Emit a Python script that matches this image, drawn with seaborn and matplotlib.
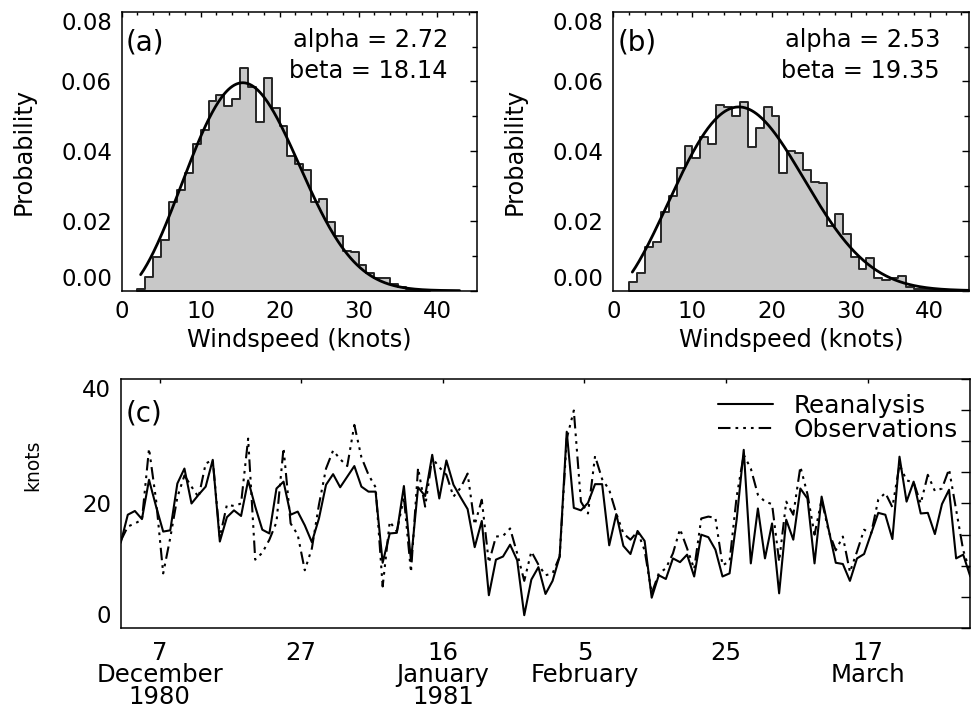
import datetime as dt

import matplotlib
matplotlib.use("Agg")
import matplotlib.pyplot as plt
import matplotlib.dates as mdates
from matplotlib.ticker import MultipleLocator, FixedLocator
import numpy as np
import pandas as pd
import seaborn as sns

# ---------------------------------------------------------------- data
# (a) Reanalysis windspeed histogram, 1-knot bins starting at 2 knots
bin_start_a = 2
prob_a = [0.0005, 0.0040, 0.0098, 0.0145, 0.0255, 0.0290, 0.0337, 0.0420,
          0.0460, 0.0544, 0.0560, 0.0530, 0.0550, 0.0638, 0.0585, 0.0483,
          0.0610, 0.0523, 0.0472, 0.0387, 0.0362, 0.0346, 0.0255, 0.0263,
          0.0198, 0.0157, 0.0115, 0.0112, 0.0074, 0.0050, 0.0035, 0.0035,
          0.0020, 0.0010, 0.0006, 0.0003, 0.0002]
alpha_a, beta_a = 2.72, 18.14

# (b) Observed windspeed histogram
bin_start_b = 2
prob_b = [0.0026, 0.0052, 0.0126, 0.0139, 0.0227, 0.0271, 0.0351, 0.0416,
          0.0380, 0.0440, 0.0420, 0.0532, 0.0528, 0.0500, 0.0542, 0.0413,
          0.0467, 0.0526, 0.0500, 0.0337, 0.0400, 0.0394, 0.0346, 0.0313,
          0.0308, 0.0185, 0.0219, 0.0164, 0.0098, 0.0061, 0.0093, 0.0035,
          0.0032, 0.0035, 0.0042, 0.0011, 0.0006, 0.0006, 0.0003, 0.0002,
          0.0002, 0.0002, 0.0002]
alpha_b, beta_b = 2.53, 19.35

# (c) daily windspeed, 1 Dec 1980 - 31 Mar 1981 (knots)
start_day = dt.datetime(1980, 12, 1, 12)
reanalysis = [13.7, 18.2, 18.8, 17.5, 23.8, 19.5, 15.5, 15.7, 23.2, 25.6,
              20.0, 21.4, 22.7, 27.0, 13.9, 17.8, 18.9, 18.0, 23.7, 19.5,
              15.8, 15.2, 22.4, 23.5, 18.2, 18.7, 16.5, 13.8, 17.6, 23.0,
              24.7, 22.6, 24.3, 26.0, 22.7, 21.9, 21.9, 10.5, 15.2, 15.3,
              22.8, 10.8, 22.6, 21.2, 27.8, 20.8, 26.9, 23.0, 21.0, 19.1,
              13.0, 17.2, 5.3, 11.0, 11.5, 13.4, 10.9, 2.1, 7.8, 9.8,
              5.5, 7.6, 11.5, 31.5, 19.3, 18.9, 20.1, 23.1, 23.1, 13.3,
              18.3, 13.2, 11.9, 15.6, 14.0, 4.9, 8.5, 7.9, 11.2, 10.6,
              11.8, 8.3, 15.0, 14.6, 12.6, 8.3, 8.8, 17.4, 28.6, 10.4,
              19.2, 11.2, 16.8, 5.6, 17.4, 14.2, 22.4, 20.8, 10.4, 21.1,
              15.8, 10.5, 10.3, 7.6, 11.2, 11.9, 15.2, 18.5, 18.2, 14.3,
              27.5, 20.3, 23.5, 18.4, 18.5, 15.1, 19.9, 22.2, 11.2, 11.8,
              8.3]
observations = [14.0, 16.3, 16.8, 17.4, 28.8, 20.5, 8.8, 14.5, 21.0, 24.5,
                22.7, 21.0, 26.4, 27.0, 14.6, 19.8, 19.6, 20.0, 30.4, 11.0,
                12.1, 14.2, 17.0, 28.9, 16.8, 15.0, 9.3, 12.8, 19.8, 25.6,
                28.5, 27.1, 26.0, 32.6, 27.4, 24.6, 22.6, 6.7, 17.1, 15.5,
                21.0, 9.0, 25.7, 19.5, 27.3, 25.8, 24.6, 21.1, 22.5, 24.8,
                16.6, 20.6, 10.5, 14.7, 14.8, 16.0, 12.0, 7.6, 12.3, 10.2,
                8.5, 8.8, 11.5, 30.4, 34.9, 20.3, 18.4, 27.6, 23.9, 22.2,
                18.4, 15.2, 14.2, 15.5, 12.5, 5.6, 8.8, 9.6, 12.0, 15.9,
                12.8, 9.5, 17.6, 17.9, 17.7, 10.1, 10.7, 21.1, 27.8, 25.6,
                21.4, 20.3, 19.9, 10.7, 20.3, 18.2, 25.9, 21.5, 15.0, 20.6,
                15.5, 12.5, 14.7, 9.0, 12.3, 15.8, 15.2, 20.6, 21.7, 19.4,
                26.2, 23.7, 23.4, 20.0, 24.6, 22.0, 22.4, 25.5, 19.0, 12.5,
                9.0]
tick_dates = [dt.datetime(1980, 12, 7), dt.datetime(1980, 12, 27),
              dt.datetime(1981, 1, 16), dt.datetime(1981, 2, 5),
              dt.datetime(1981, 2, 25), dt.datetime(1981, 3, 17)]
tick_labels = ["7\nDecember\n1980", "27", "16\nJanuary\n1981",
               "5\nFebruary", "25", "17\nMarch"]

# ---------------------------------------------------------------- style
sns.set_theme(style="white")
plt.rcParams["font.family"] = ["DejaVu Sans"]
plt.rcParams["axes.linewidth"] = 1.1
plt.rcParams["axes.edgecolor"] = "black"
plt.rcParams["xtick.color"] = "black"
plt.rcParams["ytick.color"] = "black"
plt.rcParams["text.color"] = "black"
plt.rcParams["axes.labelcolor"] = "black"

TICK_FS = 16.5
LABEL_FS = 17.3
PANEL_FS = 20

fig = plt.figure(figsize=(9.79, 7.08), dpi=100)


def weibull_pdf(x, k, lam):
    return (k / lam) * (x / lam) ** (k - 1) * np.exp(-(x / lam) ** k)


def pull_in_end_labels(ax):
    """Keep the lowest and highest y tick labels inside the frame."""
    fig.canvas.draw()
    labels = [t for t in ax.get_yticklabels() if t.get_text()]
    labels[0].set_verticalalignment("bottom")
    labels[-1].set_verticalalignment("top")


def histogram_panel(rect, start, probs, k, lam, letter, x_end):
    ax = fig.add_axes(rect)
    edges = [float(e) for e in range(start, start + len(probs) + 1)]
    hist_df = pd.DataFrame({"speed": [e + 0.5 for e in edges[:-1]],
                            "prob": probs})
    sns.histplot(data=hist_df, x="speed", weights="prob", bins=edges,
                 element="step", fill=True, stat="count",
                 facecolor="#c8c8c8", edgecolor="#262626", linewidth=1.4,
                 alpha=1.0, ax=ax)
    xs = np.linspace(2.4, x_end, 300)
    sns.lineplot(x=xs, y=weibull_pdf(xs, k, lam), color="black",
                 linewidth=2.0, ax=ax)
    ax.set_xlim(0, 45)
    ax.set_ylim(0, 0.08)
    ax.xaxis.set_major_locator(MultipleLocator(10))
    ax.xaxis.set_minor_locator(MultipleLocator(2))
    ax.yaxis.set_major_locator(FixedLocator([0, 0.02, 0.04, 0.06, 0.08]))
    ax.yaxis.set_minor_locator(MultipleLocator(0.01))
    ax.yaxis.set_major_formatter(plt.FormatStrFormatter("%.2f"))
    ax.tick_params(which="both", direction="in", top=True, right=True,
                   labelsize=TICK_FS, width=1.0)
    ax.tick_params(axis="y", which="major", length=5, pad=7)
    ax.tick_params(axis="y", which="minor", length=3.5)
    ax.tick_params(axis="x", which="major", length=3.6, pad=7)
    ax.tick_params(axis="x", which="minor", length=2.2)
    ax.set_xlabel("Windspeed (knots)", fontsize=LABEL_FS)
    ax.set_ylabel("Probability", fontsize=LABEL_FS)
    ax.xaxis.set_label_coords(0.5, -0.135)
    ax.yaxis.set_label_coords(-0.243, 0.5)
    ax.text(0.012, 0.862, f"({letter})", transform=ax.transAxes,
            fontsize=PANEL_FS, ha="left", va="baseline")
    ax.text(0.918, 0.875, f"alpha = {k:.2f}", transform=ax.transAxes,
            fontsize=LABEL_FS, ha="right", va="baseline")
    ax.text(0.918, 0.763, f"beta = {lam:.2f}", transform=ax.transAxes,
            fontsize=LABEL_FS, ha="right", va="baseline")
    return ax


ax_a = histogram_panel([0.1243, 0.5894, 0.3629, 0.3941], bin_start_a, prob_a,
                       alpha_a, beta_a, "a", 42.8)
ax_b = histogram_panel([0.6265, 0.5894, 0.3636, 0.3941], bin_start_b, prob_b,
                       alpha_b, beta_b, "b", 45.0)

# ---------------------------------------------------------------- (c)
axc = fig.add_axes([0.1233, 0.1126, 0.8678, 0.3525])
days = [start_day + dt.timedelta(days=i) for i in range(len(reanalysis))]
xnum = mdates.date2num(days)

sns.lineplot(x=xnum, y=reanalysis, color="black", linewidth=1.5,
             label="Reanalysis", ax=axc)
sns.lineplot(x=xnum, y=observations, color="black", linewidth=1.5,
             linestyle=(0, (6.0, 2.4, 1.3, 2.4, 1.3, 2.4, 1.3, 2.4)),
             label="Observations", ax=axc)

axc.set_xlim(xnum[0], xnum[-1])
axc.set_ylim(0, 40)
axc.xaxis.set_major_locator(FixedLocator(mdates.date2num(tick_dates)))
axc.set_xticklabels(tick_labels)
axc.yaxis.set_major_locator(FixedLocator([0, 20, 40]))
axc.yaxis.set_minor_locator(MultipleLocator(5))
axc.tick_params(which="both", direction="in", top=True, right=True,
                labelsize=TICK_FS, width=1.0)
axc.tick_params(axis="y", which="both", length=6.5, pad=7)
axc.tick_params(axis="x", which="major", length=3, pad=9)
for lbl in axc.get_xticklabels():
    lbl.set_linespacing(0.9)
    lbl.set_fontsize(17.6)
axc.set_ylabel("knots", fontsize=13.5)
axc.yaxis.set_label_coords(-0.092, 0.655)
axc.set_xlabel("")
axc.text(0.006, 0.828, "(c)", transform=axc.transAxes, fontsize=PANEL_FS,
         ha="left", va="baseline")

leg = axc.legend(loc="upper right", bbox_to_anchor=(1.003, 1.0),
                 frameon=False, fontsize=17.8, handlelength=2.25,
                 handletextpad=0.82, labelspacing=0.02, borderaxespad=0.2)
for line in leg.get_lines():
    line.set_linewidth(1.5)

for ax in (ax_a, ax_b, axc):
    pull_in_end_labels(ax)

fig.savefig("out.png", dpi=100)
